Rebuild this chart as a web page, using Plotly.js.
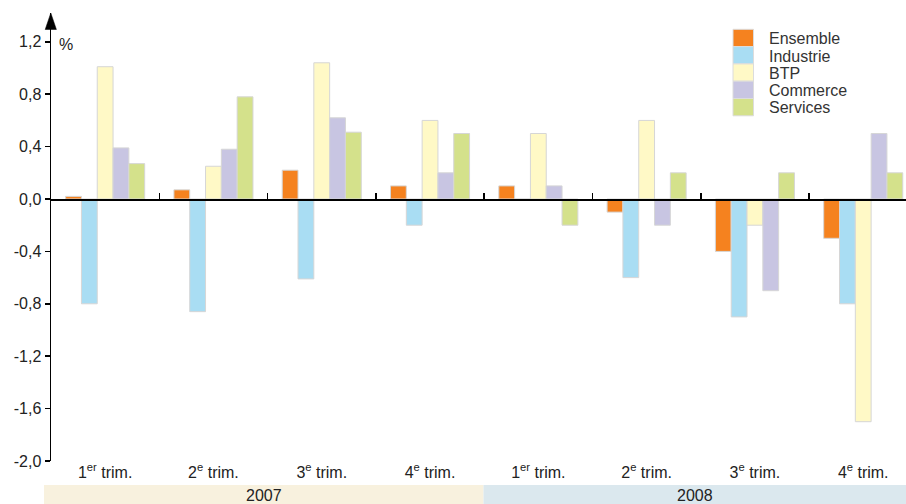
<!DOCTYPE html>
<html>
<head>
<meta charset="utf-8">
<script src="https://cdn.plot.ly/plotly-3.0.1.min.js"></script>
<style>html,body{margin:0;padding:0;background:#fff}#chart{width:906px;height:504px}</style>
</head>
<body>
<div id="chart"></div>
<script>
// ---- Data ----
const categories = ['2007 T1','2007 T2','2007 T3','2007 T4','2008 T1','2008 T2','2008 T3','2008 T4'];
const quarterLabels = ['1<sup>er</sup> trim.','2<sup>e</sup> trim.','3<sup>e</sup> trim.','4<sup>e</sup> trim.',
                       '1<sup>er</sup> trim.','2<sup>e</sup> trim.','3<sup>e</sup> trim.','4<sup>e</sup> trim.'];
const years = ['2007','2008'];
const seriesNames = ['Ensemble','Industrie','BTP','Commerce','Services'];
const ensemble  = [0.02, 0.07, 0.22, 0.10, 0.10, -0.10, -0.40, -0.30];
const industrie = [-0.80, -0.86, -0.61, -0.20, 0.00, -0.60, -0.90, -0.80];
const btp       = [1.01, 0.25, 1.04, 0.60, 0.50, 0.60, -0.20, -1.70];
const commerce  = [0.39, 0.38, 0.62, 0.20, 0.10, -0.20, -0.70, 0.50];
const services  = [0.27, 0.78, 0.51, 0.50, -0.20, 0.20, 0.20, 0.20];
const yTickVals = [-2.0, -1.6, -1.2, -0.8, -0.4, 0.0, 0.4, 0.8, 1.2];
const yTickText = ['-2,0','-1,6','-1,2','-0,8','-0,4','0,0','0,4','0,8','1,2'];

// ---- Styles ----
const colors = ['#f5821f','#a9ddf3','#fff9c6','#c8c5e2','#d4e18b'];
const seriesValues = [ensemble, industrie, btp, commerce, services];
const W = 906, H = 504, ML = 51, MR = 0, MT = 13, MB = 43;
const PW = W - ML - MR, PH = H - MT - MB;
const yRange = [-2.0, 1.42];
const xRange = [-0.5, 7.395];
const px = v => (v - ML) / PW;          // pixel x -> paper x
const py = v => (H - MB - v) / PH;      // pixel y -> paper y
const textColor = '#222222';
const fontFam = 'Liberation Sans, Arial, sans-serif';
const FS = 16;

const traces = seriesNames.map((name, i) => ({
  type: 'bar', name: name, x: categories, y: seriesValues[i],
  marker: {color: colors[i], line: {color: '#d6d6d6', width: 1}},
  showlegend: false, hoverinfo: 'x+y+name'
}));
// carrier for the zero-line axis
traces.push({type: 'scatter', x: [], y: [], xaxis: 'x2', yaxis: 'y', showlegend: false, hoverinfo: 'skip'});

const shapes = [];
const annotations = [];

// custom legend built from series
const legX0 = 733, legX1 = 753.5, legTop = 29.3, legH = 17.3;
seriesNames.forEach((name, i) => {
  const t = legTop + i * legH;
  shapes.push({type: 'rect', xref: 'paper', yref: 'paper',
    x0: px(legX0), x1: px(legX1), y0: py(t + legH), y1: py(t),
    fillcolor: colors[i], line: {color: '#dcdcdc', width: 1}});
  annotations.push({xref: 'paper', yref: 'paper', x: px(767), y: py(t + legH / 2 + 0.8),
    xanchor: 'left', yanchor: 'middle', showarrow: false, text: name,
    font: {size: FS, color: '#333333', family: fontFam}});
});

// year bands
const bandColors = ['#f8f1de', '#dbe8ee'];
const bandX = [[44, 483.5], [483.5, 906]];
years.forEach((yr, i) => {
  shapes.push({type: 'rect', xref: 'paper', yref: 'paper',
    x0: px(bandX[i][0]), x1: px(bandX[i][1]), y0: py(504), y1: py(485),
    fillcolor: bandColors[i], line: {width: 0}, layer: 'below'});
  annotations.push({xref: 'paper', yref: 'paper', x: px((bandX[i][0] + bandX[i][1]) / 2), y: py(495),
    xanchor: 'center', yanchor: 'middle', showarrow: false, text: yr,
    font: {size: FS, color: textColor, family: fontFam}});
});

// arrow head on y axis
shapes.push({type: 'path', xref: 'paper', yref: 'paper',
  path: `M ${px(45.2)},${py(29.5)} L ${px(56.4)},${py(29.5)} L ${px(50.8)},${py(13)} Z`,
  fillcolor: '#000', line: {color: '#000', width: 0.5}});

// unit label
annotations.push({xref: 'paper', yref: 'paper', x: px(66), y: py(44), xanchor: 'center', yanchor: 'middle',
  showarrow: false, text: '%', font: {size: FS, color: textColor, family: fontFam}});

const layout = {
  width: W, height: H,
  margin: {l: ML, r: MR, t: MT, b: MB, pad: 0},
  paper_bgcolor: '#ffffff', plot_bgcolor: 'rgba(0,0,0,0)',
  font: {family: fontFam, size: FS, color: textColor},
  barmode: 'group', bargap: 0.27, bargroupgap: 0,
  showlegend: false,
  xaxis: {type: 'category', range: xRange, tickmode: 'array', tickvals: categories, ticktext: quarterLabels,
    showline: false, ticks: '', showgrid: false, zeroline: false,
    tickfont: {size: FS, color: textColor, family: fontFam}},
  xaxis2: {overlaying: 'x', anchor: 'free', position: (0 - yRange[0]) / (yRange[1] - yRange[0]),
    type: 'linear', range: xRange, tickmode: 'array', tickvals: [0.5, 1.5, 2.5, 3.5, 4.5, 5.5, 6.5],
    ticks: 'inside', ticklen: 6, tickwidth: 1.5, tickcolor: '#000', showticklabels: false,
    showline: true, linecolor: '#000', linewidth: 1.5,
    showgrid: false, zeroline: false, fixedrange: true},
  yaxis: {range: yRange, tickmode: 'array', tickvals: yTickVals, ticktext: yTickText,
    ticks: 'outside', ticklen: 5, tickwidth: 1.5, tickcolor: '#000',
    showline: true, linecolor: '#000', linewidth: 1.5,
    zeroline: false, showgrid: false, tickfont: {size: FS, color: textColor, family: fontFam}},
  shapes: shapes, annotations: annotations
};

Plotly.newPlot('chart', traces, layout, {staticPlot: true, displayModeBar: false});
</script>
</body>
</html>
